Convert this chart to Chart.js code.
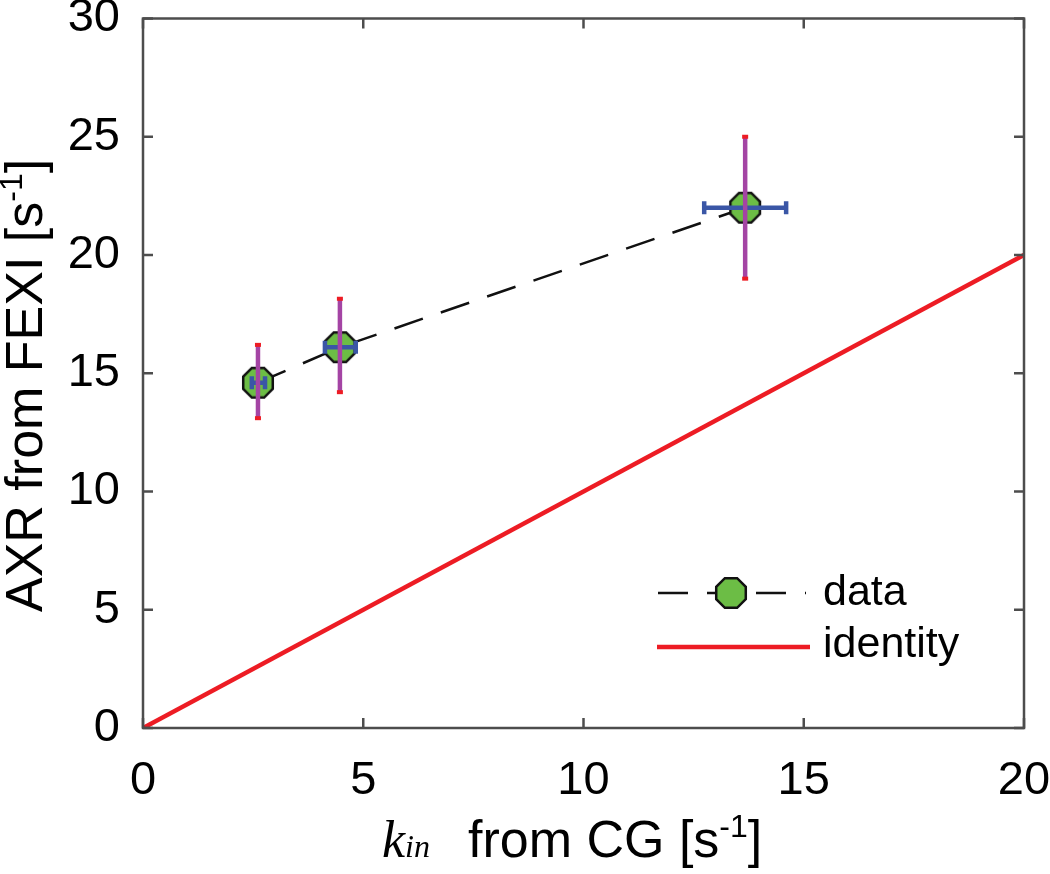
<!DOCTYPE html>
<html>
<head>
<meta charset="utf-8">
<script src="https://cdn.jsdelivr.net/npm/chart.js@4.4.1/dist/chart.umd.min.js"></script>
<style>
  html, body { margin: 0; padding: 0; background: #fff; }
  #wrap { width: 1050px; height: 874px; position: relative; }
</style>
</head>
<body>
<div id="wrap"><canvas id="chart" width="1050" height="874"></canvas></div>
<script>
// ─────────────────────────────────────────
//  DATA
// ─────────────────────────────────────────
const kin      = [2.61, 4.47, 13.67];    // k_in from CG [s-1]
const axr      = [14.6, 16.1, 22.0];     // AXR from FEXI [s-1]
const kinLow   = [2.47, 4.13, 12.74];
const kinHigh  = [2.77, 4.83, 14.60];
const axrLow   = [13.1, 14.2, 19.0];
const axrHigh  = [16.2, 18.15, 25.0];
const identityX = [0, 20];
const identityY = [0, 20];
const xTicks   = [0, 5, 10, 15, 20];
const yTicks   = [0, 5, 10, 15, 20, 25, 30];

// ─────────────────────────────────────────
//  STYLE
// ─────────────────────────────────────────
const SANS     = '"Liberation Sans", Arial, sans-serif';
const SERIF    = '"Liberation Serif", "Times New Roman", serif';
const AXIS_CLR = '#4d4d4d';
const TEXT_CLR = '#000';
const GREEN    = '#6cbd45';
const PURPLE   = '#a444a4';
const BLUE     = '#3a56a6';
const RED      = '#ed1c24';

// octagon marker, flat on top
function makeOctagon(r) {
  const size = Math.ceil(2 * r + 6);
  const c = document.createElement('canvas');
  c.width = size; c.height = size;
  const g = c.getContext('2d');
  const cx = size / 2, cy = size / 2;
  g.beginPath();
  for (let k = 0; k < 8; k++) {
    const a = Math.PI / 8 + k * Math.PI / 4;
    const px = cx + r * Math.cos(a), py = cy + r * Math.sin(a);
    k === 0 ? g.moveTo(px, py) : g.lineTo(px, py);
  }
  g.closePath();
  g.fillStyle = GREEN;
  g.fill();
  g.lineWidth = 2.5;
  g.strokeStyle = '#111';
  g.stroke();
  return c;
}
const octagon = makeOctagon(16);

// no automatic label padding, the box is placed by hand
function noPad(s) {
  s.paddingTop = 0; s.paddingBottom = 0;
  s.paddingLeft = 0; s.paddingRight = 0;
}

// ─────────────────────────────────────────
//  PLUGINS
// ─────────────────────────────────────────
const errorBars = {
  id: 'errorBars',
  afterDatasetsDraw(chart) {
    const { ctx, scales: { x, y } } = chart;
    ctx.save();
    ctx.lineCap = 'butt';
    // horizontal (blue)
    ctx.strokeStyle = BLUE;
    ctx.lineWidth = 4.5;
    kin.forEach((_, i) => {
      const py = y.getPixelForValue(axr[i]);
      const x0 = x.getPixelForValue(kinLow[i]);
      const x1 = x.getPixelForValue(kinHigh[i]);
      ctx.beginPath();
      ctx.moveTo(x0, py); ctx.lineTo(x1, py);
      ctx.moveTo(x0, py - 6.5); ctx.lineTo(x0, py + 6.5);
      ctx.moveTo(x1, py - 6.5); ctx.lineTo(x1, py + 6.5);
      ctx.stroke();
    });
    // vertical (purple, red caps)
    kin.forEach((_, i) => {
      const px = x.getPixelForValue(kin[i]);
      const y0 = y.getPixelForValue(axrLow[i]);
      const y1 = y.getPixelForValue(axrHigh[i]);
      ctx.strokeStyle = PURPLE;
      ctx.lineWidth = 4.5;
      ctx.beginPath();
      ctx.moveTo(px, y0); ctx.lineTo(px, y1);
      ctx.stroke();
      ctx.fillStyle = RED;
      ctx.fillRect(px - 3, y0 - 2, 6, 4);
      ctx.fillRect(px - 3, y1 - 2, 6, 4);
    });
    ctx.restore();
  },
};

const boxAndTitles = {
  id: 'boxAndTitles',
  afterDraw(chart) {
    const { ctx, chartArea: a, scales: { x, y } } = chart;
    ctx.save();
    // box
    ctx.strokeStyle = AXIS_CLR;
    ctx.lineWidth = 2.5;
    ctx.strokeRect(a.left, a.top, a.right - a.left, a.bottom - a.top);
    // inward ticks on all four sides
    const TL = 10;
    ctx.beginPath();
    xTicks.forEach(v => {
      const px = x.getPixelForValue(v);
      ctx.moveTo(px, a.bottom); ctx.lineTo(px, a.bottom - TL);
      ctx.moveTo(px, a.top);    ctx.lineTo(px, a.top + TL);
    });
    yTicks.forEach(v => {
      const py = y.getPixelForValue(v);
      ctx.moveTo(a.left, py);  ctx.lineTo(a.left + TL, py);
      ctx.moveTo(a.right, py); ctx.lineTo(a.right - TL, py);
    });
    ctx.stroke();

    // x title:  k_in  from CG [s-1]
    ctx.fillStyle = TEXT_CLR;
    ctx.textBaseline = 'alphabetic';
    ctx.textAlign = 'left';
    let tx = 382;
    const by = 857;
    ctx.font = `italic 52px ${SERIF}`;
    ctx.fillText('k', tx, by);
    tx += ctx.measureText('k').width;
    ctx.font = `italic 32px ${SERIF}`;
    ctx.fillText('in', tx, by);
    tx = 468;
    ctx.font = `52px ${SANS}`;
    ctx.fillText('from CG [s', tx, by);
    tx += ctx.measureText('from CG [s').width;
    ctx.font = `32px ${SANS}`;
    ctx.fillText('-1', tx, by - 20);
    tx += ctx.measureText('-1').width;
    ctx.font = `52px ${SANS}`;
    ctx.fillText(']', tx, by);

    // y title (rotated)
    ctx.translate(42, 612);
    ctx.rotate(-Math.PI / 2);
    let ty = 0;
    ctx.font = `52px ${SANS}`;
    ctx.fillText('AXR from FEXI [s', ty, 0);
    ty += ctx.measureText('AXR from FEXI [s').width;
    ctx.font = `32px ${SANS}`;
    ctx.fillText('-1', ty, -20);
    ty += ctx.measureText('-1').width;
    ctx.font = `52px ${SANS}`;
    ctx.fillText(']', ty, 0);
    ctx.restore();

    // legend
    ctx.save();
    const ly1 = 593, ly2 = 647;
    ctx.strokeStyle = '#111';
    ctx.lineWidth = 2.5;
    ctx.setLineDash([30, 19]);
    ctx.beginPath();
    ctx.moveTo(658, ly1); ctx.lineTo(806, ly1);
    ctx.stroke();
    ctx.setLineDash([]);
    ctx.drawImage(octagon, 731 - octagon.width / 2, ly1 - octagon.height / 2);
    ctx.strokeStyle = RED;
    ctx.lineWidth = 4.5;
    ctx.beginPath();
    ctx.moveTo(657, ly2); ctx.lineTo(810, ly2);
    ctx.stroke();
    ctx.fillStyle = TEXT_CLR;
    ctx.font = `43px ${SANS}`;
    ctx.textBaseline = 'middle';
    ctx.fillText('data', 823, ly1);
    ctx.fillText('identity', 823, ly2 - 2);
    ctx.restore();
  },
};

// ─────────────────────────────────────────
//  CHART
// ─────────────────────────────────────────
const LEFT_EDGE   = 143;   // y-axis position
const BOTTOM_EDGE = 728;   // x-axis position

new Chart(document.getElementById('chart').getContext('2d'), {
  type: 'scatter',
  data: {
    datasets: [
      {
        label: 'identity',
        data: identityX.map((v, i) => ({ x: v, y: identityY[i] })),
        showLine: true,
        borderColor: RED,
        borderWidth: 4.5,
        pointRadius: 0,
        order: 2,
      },
      {
        label: 'data',
        data: kin.map((v, i) => ({ x: v, y: axr[i] })),
        showLine: true,
        borderColor: '#111',
        borderWidth: 2.5,
        borderDash: [30, 19],
        pointStyle: octagon,
        pointRadius: 16,
        order: 1,
      },
    ],
  },
  options: {
    responsive: false,
    animation: false,
    layout: { padding: { left: 0, top: 18, right: 26, bottom: 0 } },
    plugins: { legend: { display: false }, tooltip: { enabled: false } },
    scales: {
      x: {
        type: 'linear',
        min: 0, max: 20,
        afterBuildTicks: s => { s.ticks = xTicks.map(v => ({ value: v })); },
        afterFit: s => { s.height = 874 - BOTTOM_EDGE; noPad(s); },
        grid: { display: false, drawTicks: false },
        border: { display: false },
        ticks: { color: TEXT_CLR, padding: 25, font: { family: SANS, size: 47, lineHeight: 1.2 } },
      },
      y: {
        type: 'linear',
        min: 0, max: 30,
        afterBuildTicks: s => { s.ticks = yTicks.map(v => ({ value: v })); },
        afterFit: s => { s.width = LEFT_EDGE; noPad(s); },
        grid: { display: false, drawTicks: false },
        border: { display: false },
        ticks: { color: TEXT_CLR, padding: 23, font: { family: SANS, size: 47, lineHeight: 1.2 } },
      },
    },
  },
  plugins: [errorBars, boxAndTitles],
});
</script>
</body>
</html>
